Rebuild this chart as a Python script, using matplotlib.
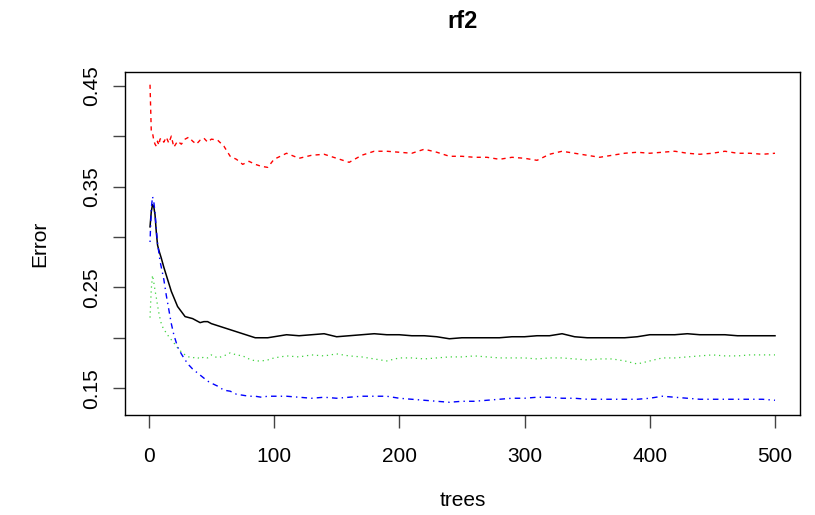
import matplotlib
matplotlib.use("Agg")
import matplotlib.pyplot as plt
import numpy as np

plt.rcParams["font.family"] = ["Liberation Sans", "DejaVu Sans"]

trees = [1, 2, 3, 4, 5, 6, 7, 8, 9, 10, 12, 14, 16, 18, 20, 23, 26, 29, 32, 35,
         38, 41, 44, 47, 50, 55, 60, 65, 70, 75, 80, 85, 90, 95,
         100, 110, 120, 130, 140, 150, 160, 170, 180, 190, 200, 210, 220, 230,
         240, 250, 260, 270, 280, 290, 300, 310, 320, 330, 340, 350, 360, 370,
         380, 390, 400, 410, 420, 430, 440, 450, 460, 470, 480, 490, 500]

oob_err = [0.310, 0.325, 0.332, 0.330, 0.322, 0.305, 0.292, 0.287, 0.283, 0.279,
           0.270, 0.262, 0.254, 0.246, 0.240, 0.231, 0.226, 0.221, 0.220, 0.219,
           0.217, 0.215, 0.216, 0.216, 0.214, 0.212, 0.210, 0.208, 0.206, 0.204,
           0.202, 0.200, 0.200, 0.200,
           0.201, 0.203, 0.202, 0.203, 0.204, 0.201, 0.202, 0.203, 0.204, 0.203,
           0.203, 0.202, 0.202, 0.201, 0.199, 0.200, 0.200, 0.200, 0.200, 0.201,
           0.201, 0.202, 0.202, 0.204, 0.201, 0.200, 0.200, 0.200, 0.200, 0.201,
           0.203, 0.203, 0.203, 0.204, 0.203, 0.203, 0.203, 0.202, 0.202, 0.202,
           0.202]

class1_err = [0.451, 0.405, 0.403, 0.396, 0.392, 0.390, 0.395, 0.391, 0.397, 0.398,
              0.394, 0.399, 0.393, 0.400, 0.389, 0.395, 0.392, 0.397, 0.399, 0.395,
              0.392, 0.396, 0.398, 0.394, 0.397, 0.396, 0.390, 0.380, 0.377, 0.372,
              0.375, 0.372, 0.370, 0.369,
              0.377, 0.383, 0.378, 0.381, 0.382, 0.378, 0.374, 0.381, 0.385, 0.385,
              0.384, 0.383, 0.387, 0.384, 0.380, 0.380, 0.379, 0.379, 0.377, 0.379,
              0.378, 0.376, 0.382, 0.385, 0.383, 0.381, 0.379, 0.381, 0.383, 0.384,
              0.383, 0.384, 0.385, 0.383, 0.382, 0.383, 0.385, 0.383, 0.383, 0.382,
              0.383]

class2_err = [0.220, 0.248, 0.262, 0.255, 0.247, 0.240, 0.232, 0.225, 0.219, 0.214,
              0.208, 0.205, 0.201, 0.198, 0.195, 0.190, 0.186, 0.183, 0.181, 0.180,
              0.181, 0.179, 0.181, 0.180, 0.183, 0.180, 0.182, 0.185, 0.183, 0.182,
              0.179, 0.177, 0.177, 0.178,
              0.180, 0.182, 0.181, 0.183, 0.182, 0.184, 0.182, 0.181, 0.179, 0.177,
              0.180, 0.180, 0.179, 0.180, 0.181, 0.181, 0.182, 0.181, 0.180, 0.180,
              0.180, 0.179, 0.180, 0.180, 0.179, 0.178, 0.179, 0.179, 0.177, 0.174,
              0.177, 0.180, 0.180, 0.181, 0.182, 0.183, 0.182, 0.182, 0.183, 0.183,
              0.183]

class3_err = [0.295, 0.328, 0.340, 0.335, 0.324, 0.308, 0.294, 0.285, 0.276, 0.270,
              0.258, 0.242, 0.228, 0.214, 0.203, 0.191, 0.184, 0.178, 0.173, 0.169,
              0.166, 0.163, 0.160, 0.157, 0.155, 0.152, 0.148, 0.147, 0.144, 0.143,
              0.142, 0.142, 0.141, 0.142,
              0.142, 0.142, 0.141, 0.140, 0.141, 0.140, 0.141, 0.142, 0.142, 0.142,
              0.140, 0.139, 0.138, 0.137, 0.136, 0.137, 0.137, 0.138, 0.139, 0.140,
              0.140, 0.141, 0.141, 0.140, 0.140, 0.139, 0.139, 0.139, 0.139, 0.139,
              0.140, 0.142, 0.141, 0.140, 0.139, 0.139, 0.139, 0.139, 0.139, 0.139,
              0.138]

y_ticks = [0.15, 0.20, 0.25, 0.30, 0.35, 0.40, 0.45]
y_labels = ["0.15", "", "0.25", "", "0.35", "", "0.45"]
x_ticks = [0, 100, 200, 300, 400, 500]


def main():
    fig = plt.figure(figsize=(8.15, 5.15), dpi=100)
    ax = fig.add_axes([0.1534, 0.1942, 0.8282, 0.666])

    # R matplot style: lty 1..4, col 1..4
    ax.plot(trees, oob_err, color="black", lw=1.1, linestyle="-")
    ax.plot(trees, class1_err, color="#FF0000", lw=1.0, linestyle=(0, (3, 3)))
    ax.plot(trees, class2_err, color="#3CD23C", lw=0.9, linestyle=(0, (1, 3)))
    ax.plot(trees, class3_err, color="#0000FF", lw=1.0, linestyle=(0, (1, 3, 4, 3)))

    # R pads each axis range by 4%
    all_err = np.concatenate([oob_err, class1_err, class2_err, class3_err])
    lo, hi = all_err.min(), all_err.max()
    pad = 0.04 * (hi - lo)
    ax.set_ylim(lo - pad, hi + pad)
    xpad = 0.04 * (max(trees) - min(trees))
    ax.set_xlim(min(trees) - xpad, max(trees) + xpad)

    ax.set_yticks(y_ticks)
    ax.set_yticklabels(y_labels, rotation=90, va="center")
    ax.set_xticks(x_ticks)
    ax.tick_params(direction="out", length=9, width=1, labelsize=15,
                   color="#444444")
    ax.tick_params(axis="x", pad=14)
    ax.tick_params(axis="y", pad=8)

    for s in ax.spines.values():
        s.set_linewidth(1)

    ax.set_xlabel("trees", fontsize=15, labelpad=18)
    ax.set_ylabel("Error", fontsize=15, labelpad=24)
    ax.set_title("rf2", fontsize=17, fontweight="bold", pad=32)

    fig.savefig("out.png", dpi=100)
    plt.close(fig)


if __name__ == "__main__":
    main()
